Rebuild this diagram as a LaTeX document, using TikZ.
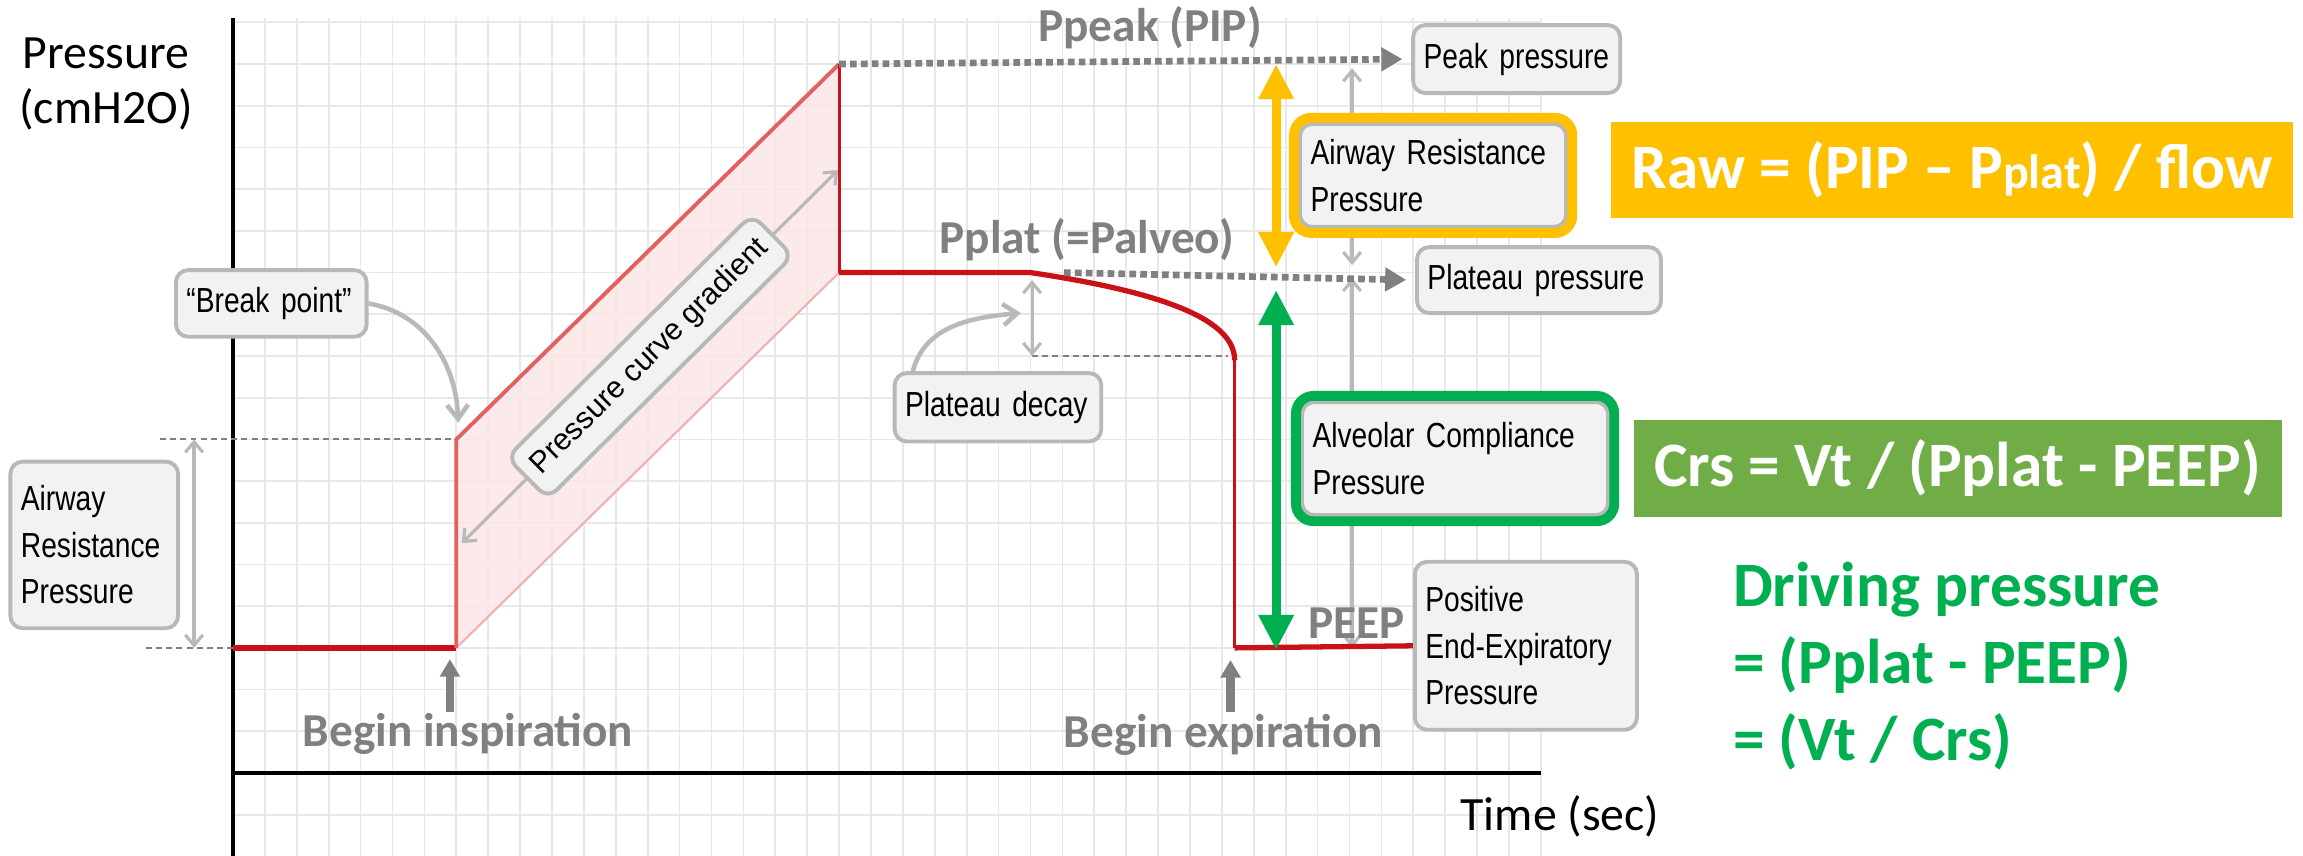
\documentclass[tikz,border=0pt]{standalone}
\usepackage{fontspec}
\setmainfont{Carlito}
\newfontfamily\boxfont[FakeStretch=0.81]{Liberation Sans}
\newfontfamily\tiltfont{Liberation Sans}
\usetikzlibrary{arrows.meta,fit}

\definecolor{gridgray}{RGB}{232,232,232}
\definecolor{curvered}{RGB}{200,18,24}
\definecolor{rampred}{RGB}{226,96,96}
\definecolor{shadepink}{RGB}{251,229,229}
\definecolor{shadeedge}{RGB}{240,176,176}
\definecolor{cuegray}{RGB}{128,128,128}
\definecolor{dimgray}{RGB}{185,185,185}
\definecolor{boxfill}{RGB}{242,242,242}
\definecolor{boxline}{RGB}{184,184,184}
\definecolor{amber}{RGB}{255,192,0}
\definecolor{leafgreen}{RGB}{112,173,71}
\definecolor{vividgreen}{RGB}{0,176,80}

\begin{document}
\begin{tikzpicture}[x=0.319cm,y=0.417cm,
  gridline/.style={draw=gridgray,line width=0.5pt},
  axisline/.style={draw=black,line width=1pt},
  heavyred/.style={draw=curvered,line width=1.5pt},
  dropred/.style={draw=curvered,line width=0.9pt},
  rampline/.style={draw=rampred,line width=1.1pt},
  refline/.style={draw=gray,line width=0.6pt,dash pattern=on 1.7pt off 1.2pt},
  dimarrow/.style={draw=dimgray,line width=0.9pt,{Straight Barb[length=3pt,width=5pt]}-{Straight Barb[length=3pt,width=5pt]}},
  pointarrow/.style={draw=dimgray,line width=1.3pt,-{Straight Barb[length=4pt,width=6pt]}},
  levelline/.style={draw=cuegray,line width=1.9pt,dash pattern=on 1.9pt off 1.2pt,-{Triangle[length=6pt,width=6.5pt]},shorten >=2.5pt},
  cuearrow/.style={draw=cuegray,line width=2.3pt,-{Triangle[length=5pt,width=5.5pt]}},
  spanarrow/.style={line width=2.6pt,{Triangle[length=10pt,width=9.5pt]}-{Triangle[length=10pt,width=9.5pt]}},
  infobox/.style={draw=boxline,line width=1.1pt,fill=boxfill,rounded corners=3.5pt,align=left,inner xsep=3pt,inner ysep=0pt,font=\boxfont\fontsize{9.9pt}{13.2pt}\selectfont},
  gradbox/.style={draw=boxline,line width=1.1pt,fill=boxfill,rounded corners=3.5pt,inner sep=0pt,minimum width=3.45cm,minimum height=0.58cm,font=\tiltfont\fontsize{8.6pt}{10pt}\selectfont},
  ringframe/.style={rounded corners=5pt,line width=2.8pt,inner sep=1.2pt},
  cuelabel/.style={text=cuegray,anchor=base,inner sep=0pt,font=\fontsize{13.45pt}{16pt}\selectfont\bfseries},
  axislabel/.style={anchor=base,inner sep=0pt,align=center,font=\fontsize{13.6pt}{15.6pt}\selectfont},
  formula/.style={text=white,inner sep=0pt,font=\fontsize{18pt}{21.8pt}\selectfont\bfseries}]
\useasboundingbox (-7.304,-1.990) rectangle (64.890,18.537);

% background grid
\foreach \gx in {1,...,41}
  \draw[gridline] (\gx,-1.99) -- (\gx,18.1);
\foreach \gy in {-1,...,18}
  \draw[gridline] (0,\gy) -- (41,\gy);

% axes (multi-line labels sit on their last baseline)
\draw[axisline] (0,18.1) -- (0,-1.99);
\draw[axisline] (0,0) -- (41,0);
\node[axislabel] (ylab) at (-3.98,15.58) {Pressure\\(cmH2O)};
\node[axislabel] (xlab) at (41.6,-1.37) {Time (sec)};

% points of the pressure trace
\coordinate (c0) at (0,3);
\coordinate (rise) at (7,3);
\coordinate (brk) at (7,8);
\coordinate (peak) at (19,17);
\coordinate (plat) at (19,12);
\coordinate (decay) at (25,12);
\coordinate (bend) at (31.4,9.9);
\coordinate (drop) at (31.4,3);

% shaded gradient band
\fill[shadepink,fill opacity=0.85] (rise) -- (brk) -- (peak) -- (plat) -- cycle;
\draw[shadeedge,line width=0.6pt] (rise) -- (plat);

% reference lines, left side
\draw[refline] (-2.73,3) -- (c0);
\draw[refline] (-2.29,8) -- (brk);
\coordinate (awlo) at (-1.22,3);
\coordinate (awhi) at (-1.22,8);
\draw[dimarrow] (awlo) -- (awhi);

% plateau decay marks
\coordinate (decaytop) at (25.05,11.82);
\coordinate (decaybot) at (25.05,10.0);
\coordinate (decayend) at (31.19,10.0);
\draw[refline] (decaybot) -- (decayend);
\draw[dimarrow] (decaytop) -- (decaybot);

% dimension lines on the right
\coordinate (rtop) at (35.08,16.9);
\coordinate (rmidhi) at (35.08,12.18);
\coordinate (rmidlo) at (35.08,11.87);
\coordinate (rbot) at (35.08,3);
\draw[dimarrow] (rtop) -- (rmidhi);
\draw[dimarrow] (rmidlo) -- (rbot);

% gradient arrow with its label
\coordinate (gradlo) at (7.17,5.51);
\coordinate (gradhi) at (18.97,14.46);
\draw[dimarrow] (gradlo) -- node[gradbox,sloped] (gradlab) {Pressure curve gradient} (gradhi);

% the trace
\draw[heavyred] (c0) -- (rise);
\draw[rampline] (rise) -- (brk) -- (peak);
\draw[dropred] (peak) -- (plat);
\draw[heavyred] (plat) -- (decay) .. controls (28.5,11.6) and (31.4,11.0) .. (bend);
\draw[dropred] (bend) -- (drop);

% text boxes
\node[infobox,text width=1.696cm,minimum height=0.667cm] (brkbox) at (1.2,11.26) {“Break point”};
\node[infobox,text width=1.466cm,minimum height=1.666cm] (awrleft) at (-4.35,5.47) {Airway\\Resistance\\Pressure};
\node[infobox,text width=1.856cm,minimum height=0.684cm] (decaybox) at (23.98,8.77) {Plateau decay};
\node[infobox,text width=1.86cm,minimum height=0.68cm] (peakbox) at (40.24,17.12) {Peak pressure};
\node[infobox,text width=2.23cm,minimum height=0.66cm] (platbox) at (40.94,11.82) {Plateau pressure};
\node[infobox,text width=2.45cm,minimum height=1.03cm] (awrbox) at (37.62,14.33) {Airway Resistance\\Pressure};
\node[infobox,text width=2.85cm,minimum height=1.13cm] (alvbox) at (38.31,7.54) {Alveolar Compliance\\Pressure};
\node[infobox,text width=2.01cm,minimum height=1.68cm] (peepbox) at (40.53,3.05) {Positive\\End-Expiratory\\Pressure};
\node[ringframe,draw=amber,fit=(awrbox)] (awrring) {};
\node[ringframe,draw=vividgreen,fit=(alvbox)] (alvring) {};

\draw[heavyred] (drop) -- (peepbox.west);

% callout arrows
\coordinate (brktip) at (7.06,8.4);
\draw[pointarrow] (brkbox.east) to[out=-10,in=92] (brktip);
\coordinate (decaytip) at (24.7,11.03);
\draw[pointarrow] (decaybox.157) to[out=75,in=185] (decaytip);

% levels
\coordinate (platdash) at (26.05,12);
\draw[levelline] (peak) -- (peakbox.west);
\draw[levelline] (platdash) -- (platbox.west);
\node[cuelabel] (ppeak) at (28.75,17.54) {Ppeak (PIP)};
\node[cuelabel] (pplat) at (26.77,12.46) {Pplat (=Palveo)};
\node[cuelabel] (peeplab) at (35.22,3.23) {PEEP};

% resistance and compliance spans
\coordinate (amtop) at (32.7,17);
\coordinate (ambot) at (32.7,12.13);
\coordinate (grtop) at (32.7,11.58);
\coordinate (grbot) at (32.7,2.95);
\draw[spanarrow,amber] (amtop) -- (ambot);
\draw[spanarrow,vividgreen] (grtop) -- (grbot);

% start of inspiration and expiration
\coordinate (inspfoot) at (6.8,1.47);
\coordinate (insptip) at (6.8,2.73);
\coordinate (expfoot) at (31.27,1.47);
\coordinate (exptip) at (31.27,2.71);
\draw[cuearrow] (inspfoot) -- (insptip);
\draw[cuearrow] (expfoot) -- (exptip);
\node[cuelabel] (insp) at (7.37,0.63) {Begin inspiration};
\node[cuelabel] (expi) at (31.05,0.6) {Begin expiration};

% formulas
\node[formula,fill=amber,minimum width=6.82cm,minimum height=0.966cm] (rawbox) at (53.89,14.46) {Raw = (PIP – P{\fontsize{13.7pt}{14pt}\selectfont plat}) / flow};
\node[formula,fill=leafgreen,minimum width=6.48cm,minimum height=0.967cm] (crsbox) at (54.06,7.31) {Crs = Vt / (Pplat - PEEP)};
\node[formula,text=vividgreen,anchor=base west,align=left] (drivetxt) at (47.0,0.31) {Driving pressure\\= (Pplat - PEEP)\\= (Vt / Crs)};
\end{tikzpicture}
\end{document}
